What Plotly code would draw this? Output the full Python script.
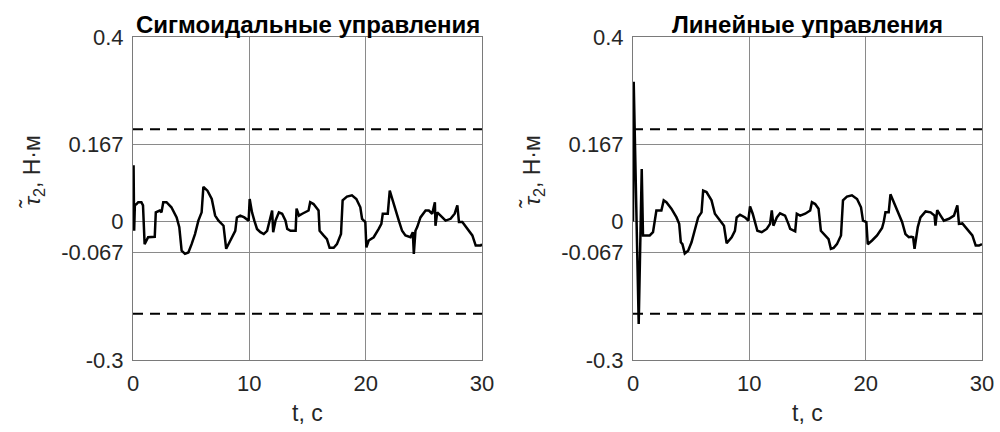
import plotly.graph_objects as go

# ---- data ----
t_sig = [0, 0.05, 0.1, 0.16, 0.3, 0.45, 0.72, 0.86, 1.0, 1.3, 1.87, 1.96, 2.3, 2.45, 2.6, 2.88,
         3.3, 3.75, 3.98, 4.12, 4.18, 4.47, 4.76, 5.04, 5.33, 5.62, 5.9, 6.05, 6.4, 6.77, 7.06,
         7.35, 7.78, 8.01, 8.36, 8.79, 8.93, 9.22, 9.57, 9.94, 10.03, 10.23, 10.43, 10.66, 10.95,
         11.24, 11.53, 11.67, 11.96, 12.05, 12.25, 12.54, 12.82, 13.11, 13.26, 13.54, 13.98, 14.06,
         14.27, 14.55, 14.84, 15.09, 15.23, 15.52, 15.95, 16.04, 16.38, 16.67, 16.9, 17.25, 17.53,
         17.88, 18.02, 18.39, 18.82, 19.2, 19.54, 19.69, 19.97, 20.06, 20.26, 20.69, 21.12, 21.35,
         21.47, 21.9, 22.07, 22.27, 22.56, 22.85, 23.13, 23.42, 23.85, 24.05, 24.14, 24.28, 24.43,
         24.71, 25.15, 25.43, 25.72, 25.95, 26.0, 26.15, 26.44, 26.87, 27.3, 27.65, 27.88, 28.02,
         28.31, 28.74, 29.17, 29.46, 29.89, 30.0]
tau_sig = [0.002, 0.122, -0.02, 0.035, 0.038, 0.042, 0.042, 0.035, -0.049, -0.034, -0.033, 0.020,
           0.024, 0.020, 0.042, 0.042, 0.031, 0.009, -0.012, -0.056, -0.063, -0.070, -0.067, -0.049,
           -0.027, 0.002, 0.020, 0.075, 0.067, 0.049, 0.013, 0.002, -0.009, -0.059, -0.041, -0.020,
           0.009, 0.013, 0.009, 0.002, 0.049, 0.020, 0.002, -0.016, -0.023, -0.027, -0.020, -0.005,
           0.024, -0.023, 0.002, 0.020, 0.017, 0.002, -0.016, -0.020, -0.020, 0.028, 0.013, 0.017,
           0.020, 0.024, 0.042, 0.038, 0.024, -0.020, -0.030, -0.038, -0.057, -0.057, -0.049, -0.027,
           0.046, 0.054, 0.057, 0.049, 0.031, 0.006, -0.001, -0.056, -0.041, -0.034, -0.016, -0.005,
           0.017, 0.017, 0.067, 0.049, 0.028, 0.002, -0.020, -0.030, -0.034, -0.023, -0.070, -0.020,
           -0.012, 0.009, 0.024, 0.024, 0.017, 0.042, -0.009, 0.020, 0.013, 0.002, 0.006, 0.017,
           0.035, -0.001, -0.001, -0.016, -0.030, -0.052, -0.052, -0.049]

t_lin = [0, 0.06, 0.49, 0.75, 0.86, 1.44, 1.72, 2.01, 2.44, 2.64, 2.87, 3.3, 3.74, 3.97, 4.11,
         4.25, 4.45, 4.74, 5.03, 5.32, 5.6, 5.89, 6.03, 6.32, 6.75, 7.04, 7.47, 7.82, 8.05, 8.48,
         8.76, 8.91, 9.2, 9.63, 9.91, 10.06, 10.29, 10.49, 10.69, 11.06, 11.49, 11.78, 11.93, 12.07,
         12.36, 12.64, 13.07, 13.36, 13.51, 13.94, 14.08, 14.37, 14.8, 15.23, 15.38, 15.66, 15.95,
         16.15, 16.53, 16.81, 17.01, 17.25, 17.53, 17.88, 18.05, 18.39, 18.82, 19.26, 19.6, 19.77,
         20.06, 20.18, 20.55, 20.98, 21.41, 21.55, 21.7, 21.98, 22.13, 22.42, 22.7, 23.13, 23.42,
         23.71, 23.91, 24.08, 24.2, 24.37, 24.48, 24.71, 25.15, 25.58, 25.92, 26.0, 26.15, 26.44,
         26.72, 27.16, 27.59, 27.88, 28.02, 28.31, 28.74, 29.17, 29.46, 29.74, 30.0]
tau_lin = [0.0, 0.303, -0.222, 0.114, -0.030, -0.030, -0.023, 0.024, 0.024, 0.046, 0.042, 0.028,
           0.009, -0.005, -0.045, -0.049, -0.069, -0.063, -0.045, -0.020, 0.009, 0.020, 0.067,
           0.064, 0.046, 0.017, 0.002, -0.009, -0.047, -0.034, -0.020, 0.009, 0.015, 0.009, 0.002,
           0.033, 0.017, -0.001, -0.020, -0.023, -0.016, -0.005, 0.024, -0.009, 0.009, 0.018, 0.013,
           -0.005, -0.016, -0.021, 0.017, 0.013, 0.017, 0.024, 0.042, 0.038, 0.028, -0.020, -0.030,
           -0.038, -0.059, -0.057, -0.049, -0.030, 0.046, 0.054, 0.057, 0.049, 0.031, 0.002, -0.001,
           -0.049, -0.041, -0.030, -0.014, -0.001, 0.020, 0.020, 0.059, 0.042, 0.024, -0.001, -0.027,
           -0.034, -0.033, -0.034, -0.059, -0.027, -0.012, 0.009, 0.022, 0.020, 0.013, -0.009, 0.025,
           0.013, 0.002, 0.006, 0.013, 0.035, -0.005, -0.004, -0.016, -0.030, -0.052, -0.052, -0.049]

bound_t = [0, 30]
bound_upper = [0.2, 0.2]
bound_lower = [-0.2, -0.2]

x_ticks = [0, 10, 20, 30]
x_ticktext = ["0", "10", "20", "30"]
y_ticks = [-0.3, -0.067, 0, 0.167, 0.4]
y_ticktext = ["-0.3", "-0.067", "0", "0.167", "0.4"]

titles = ["Сигмоидальные управления", "Линейные управления"]
x_label = "t, с"
y_label = "<i>τ̃</i><sub>2</sub>, Н·м"

FONT = "Liberation Sans, Arial, sans-serif"
TXT = "#262626"

fig = go.Figure()
panels = [(t_sig, tau_sig, "x", "y"), (t_lin, tau_lin, "x2", "y2")]
for t, v, xa, ya in panels:
    for b in (bound_upper, bound_lower):
        fig.add_trace(go.Scatter(x=bound_t, y=b, mode="lines", xaxis=xa, yaxis=ya,
                                 line=dict(color="black", width=2, dash="10px,7px"),
                                 showlegend=False, hoverinfo="skip"))
    fig.add_trace(go.Scatter(x=t, y=v, mode="lines", xaxis=xa, yaxis=ya,
                             line=dict(color="black", width=2.5), showlegend=False))

domains_x = [[0.133, 0.482], [0.633, 0.982]]
dom_y = [1 - 360 / 432, 1 - 37 / 432]

common_x = dict(range=[0, 30], tickvals=x_ticks, ticktext=x_ticktext, showgrid=True,
                gridcolor="#8a8a8a", gridwidth=1, zeroline=False, showline=True,
                linecolor="#7a7a7a", linewidth=1, mirror=True, ticks="", automargin=False,
                ticklabelstandoff=4,
                tickfont=dict(family=FONT, size=22, color=TXT))
common_y = dict(range=[-0.3, 0.4], tickvals=y_ticks, ticktext=y_ticktext, showgrid=True,
                gridcolor="#8a8a8a", gridwidth=1, zeroline=False, showline=True,
                linecolor="#7a7a7a", linewidth=1, mirror=True, ticks="", automargin=False,
                ticklabelstandoff=4,
                tickfont=dict(family=FONT, size=22, color=TXT), domain=dom_y)

fig.update_layout(
    template="none",
    width=1000, height=432, margin=dict(l=0, r=0, t=0, b=0, autoexpand=False),
    paper_bgcolor="white", plot_bgcolor="white",
    xaxis=dict(common_x, domain=domains_x[0], anchor="y"),
    yaxis=dict(common_y, anchor="x"),
    xaxis2=dict(common_x, domain=domains_x[1], anchor="y2"),
    yaxis2=dict(common_y, anchor="x2"),
)

annotations = []
for i, dx in enumerate(domains_x):
    cx = (dx[0] + dx[1]) / 2
    annotations.append(dict(text="<b>" + titles[i] + "</b>", x=cx, y=1 - 24 / 432, xref="paper",
                            yref="paper", showarrow=False, xanchor="center", yanchor="middle",
                            font=dict(family=FONT, size=24, color="black")))
    annotations.append(dict(text=x_label, x=cx, y=1 - 413 / 432, xref="paper", yref="paper",
                            showarrow=False, xanchor="center", yanchor="middle",
                            font=dict(family=FONT, size=23, color=TXT)))
    annotations.append(dict(text=y_label, x=dx[0] - 100 / 1000, y=1 - 172 / 432, xref="paper",
                            yref="paper", showarrow=False, xanchor="center", yanchor="middle",
                            textangle=-90, font=dict(family=FONT, size=23, color=TXT)))
fig.update_layout(annotations=annotations)

fig.write_html("out.html")
